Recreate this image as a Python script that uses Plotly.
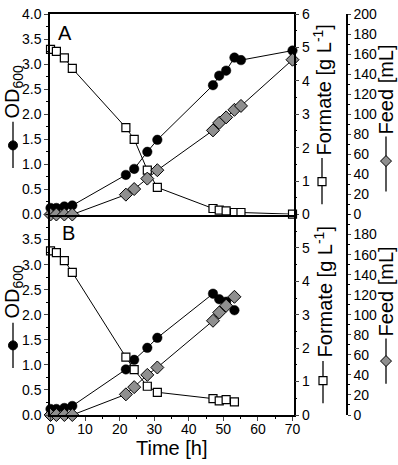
import plotly.graph_objects as go

# ---------------- data ----------------
time_A = [0, 1.7, 4, 6.3, 21.8, 24.2, 28, 30.9, 47, 48.8, 50.8, 53.2, 55.1, 70]
od_A = [0.13, 0.13, 0.16, 0.18, 0.79, 0.91, 1.25, 1.49, 2.58, 2.77, 2.87, 3.13, 3.08, 3.27]
formate_A = [4.94, 4.88, 4.69, 4.37, 2.60, 2.25, 1.33, 0.81, 0.18, 0.13, 0.11, 0.06, 0.06, 0.01]
feed_A = [0, 0, 0, 0, 19.8, 25.4, 35.8, 44.2, 83.9, 91.4, 96.9, 104.4, 108.3, 154.4]

time_B = [0, 1.7, 4, 6.3, 21.8, 24.2, 28, 30.9, 47, 48.8, 50.8, 53.2]
od_B = [0.12, 0.12, 0.14, 0.18, 0.91, 1.10, 1.34, 1.54, 2.42, 2.31, 2.26, 2.09]
formate_B = [4.91, 4.86, 4.62, 4.27, 1.73, 1.36, 0.86, 0.68, 0.49, 0.42, 0.46, 0.39]
feed_B = [0, 0, 0, 0, 20.6, 27.8, 40.0, 47.4, 94.0, 102.2, 109.0, 117.9]

x_ticks = [0, 10, 20, 30, 40, 50, 60, 70]
od_ticks_A = [0, 0.5, 1, 1.5, 2, 2.5, 3, 3.5, 4]
od_ticks_B = [0, 0.5, 1, 1.5, 2, 2.5, 3, 3.5]
formate_ticks_A = [0, 1, 2, 3, 4, 5, 6]
formate_ticks_B = [0, 1, 2, 3, 4, 5]
feed_ticks_A = [0, 20, 40, 60, 80, 100, 120, 140, 160, 180, 200]
feed_ticks_B = [0, 20, 40, 60, 80, 100, 120, 140, 160, 180]

FONT = "Liberation Sans, Arial, sans-serif"
GRAY = "#8f8f8f"

fig = go.Figure()

circle = dict(symbol="circle", size=9.5, color="black", line=dict(color="black", width=0.5))
square = dict(symbol="square", size=8, color="white", line=dict(color="black", width=1.2))
diamond = dict(symbol="diamond", size=10, color=GRAY, line=dict(color="black", width=1))
ln = dict(color="black", width=1)

# Panel A
fig.add_trace(go.Scatter(x=time_A, y=od_A, xaxis="x", yaxis="y", mode="lines+markers",
                         marker=circle, line=ln, cliponaxis=False, showlegend=False))
fig.add_trace(go.Scatter(x=time_A, y=formate_A, xaxis="x", yaxis="y2", mode="lines+markers",
                         marker=square, line=ln, cliponaxis=False, showlegend=False))
fig.add_trace(go.Scatter(x=time_A, y=feed_A, xaxis="x", yaxis="y3", mode="lines+markers",
                         marker=diamond, line=ln, cliponaxis=False, showlegend=False))
# Panel B
fig.add_trace(go.Scatter(x=time_B, y=od_B, xaxis="x2", yaxis="y4", mode="lines+markers",
                         marker=circle, line=ln, cliponaxis=False, showlegend=False))
fig.add_trace(go.Scatter(x=time_B, y=formate_B, xaxis="x2", yaxis="y5", mode="lines+markers",
                         marker=square, line=ln, cliponaxis=False, showlegend=False))
fig.add_trace(go.Scatter(x=time_B, y=feed_B, xaxis="x2", yaxis="y6", mode="lines+markers",
                         marker=diamond, line=ln, cliponaxis=False, showlegend=False))

XDOM = [0, 0.82]
XR = [-0.15, 70.3]
tickfont = dict(family=FONT, size=14, color="black")
axline = dict(showline=True, linecolor="black", linewidth=1.5, showgrid=False, zeroline=False,
              ticklabeloverflow="allow")


def fmt1(v):
    return f"{v:.1f}"


fig.update_layout(
    width=398, height=465,
    margin=dict(l=50, r=51, t=6, b=50, pad=0),
    plot_bgcolor="white", paper_bgcolor="white",
    font=dict(family=FONT, color="black"),
    xaxis=dict(domain=XDOM, anchor="y", range=XR, showticklabels=False, ticks="",
               mirror=True, **axline),
    yaxis=dict(domain=[0.5, 1], anchor="x", range=[0, 4], tickmode="array",
               tickvals=od_ticks_A, ticktext=[fmt1(v) for v in od_ticks_A],
               ticks="outside", ticklen=4, tickwidth=1.2, tickfont=tickfont,
               minor=dict(ticks="outside", ticklen=2, dtick=0.25, tick0=0, tickcolor="black"),
               **axline),
    yaxis2=dict(overlaying="y", anchor="x", side="right", range=[0, 6], tickmode="array",
                tickvals=formate_ticks_A, ticks="outside", ticklen=4, tickwidth=1.2,
                tickfont=tickfont,
                minor=dict(ticks="outside", ticklen=2, dtick=0.5, tick0=0, tickcolor="black"),
                **axline),
    yaxis3=dict(overlaying="y", anchor="free", position=1, side="right", range=[0, 200],
                tickmode="array", tickvals=feed_ticks_A, ticks="outside", ticklen=3,
                tickwidth=1.2, tickfont=tickfont,
                minor=dict(ticks="outside", ticklen=2, dtick=10, tick0=0, tickcolor="black"),
                **axline),
    xaxis2=dict(domain=XDOM, anchor="y4", range=XR, tickmode="array", tickvals=x_ticks,
                ticks="outside", ticklen=4, tickwidth=1.2, tickfont=tickfont, mirror=False,
                ticklabelstandoff=-4,
                minor=dict(ticks="outside", ticklen=2, dtick=5, tick0=0, tickcolor="black"),
                title=dict(text="Time [h]", font=dict(family=FONT, size=20, color="black"),
                           standoff=2),
                **axline),
    yaxis4=dict(domain=[0, 0.5], anchor="x2", range=[0, 4], tickmode="array",
                tickvals=od_ticks_B, ticktext=[fmt1(v) for v in od_ticks_B],
                ticks="outside", ticklen=4, tickwidth=1.2, tickfont=tickfont,
                minor=dict(ticks="outside", ticklen=2, dtick=0.25, tick0=0, tickcolor="black"),
                **axline),
    yaxis5=dict(overlaying="y4", anchor="x2", side="right", range=[0, 6], tickmode="array",
                tickvals=formate_ticks_B, ticks="outside", ticklen=4, tickwidth=1.2,
                tickfont=tickfont,
                minor=dict(ticks="outside", ticklen=2, dtick=0.5, tick0=0, tickcolor="black"),
                **axline),
    yaxis6=dict(overlaying="y4", anchor="free", position=1, side="right", range=[0, 200],
                tickmode="array", tickvals=feed_ticks_B, ticks="outside", ticklen=3,
                tickwidth=1.2, tickfont=tickfont,
                minor=dict(ticks="outside", ticklen=2, dtick=10, tick0=0, tickcolor="black"),
                **axline),
)


# ---- pixel -> paper helpers for decorations (axis-title symbols, panel letters) ----
def px(xp):
    return (xp - 50) / 297.0


def py(yp):
    return (415 - yp) / 409.0


title_font = dict(family=FONT, size=20, color="black")
ann = []
# Panel letters
ann.append(dict(x=px(65), y=py(25), xref="paper", yref="paper", text="A", showarrow=False,
                font=dict(family=FONT, size=20, color="black"), xanchor="center", yanchor="middle"))
ann.append(dict(x=px(68), y=py(229), xref="paper", yref="paper", text="B", showarrow=False,
                font=dict(family=FONT, size=20, color="black"), xanchor="center", yanchor="middle"))

shapes = []
labels = [
    # (x center, text center y, text, line y0, line y1, marker y, marker kind)
    (13, 85, "OD<sub>600</sub>", 116, 163, 140, "circle"),
    (13, 289, "OD<sub>600</sub>", 321, 367, 344, "circle"),
    (322, 84, "Formate [g L<sup>-1</sup>]", 153, 200, 177, "square"),
    (323, 290, "Formate [g L<sup>-1</sup>]", 360, 403, 380, "square"),
    (386, 83, "Feed [mL]", 131, 187, 156, "diamond"),
    (386, 289, "Feed [mL]", 337, 383, 360, "diamond"),
]
for xc, ty, txt, l0, l1, my, kind in labels:
    ann.append(dict(x=px(xc), y=py(ty), xref="paper", yref="paper", text=txt, textangle=-90,
                    showarrow=False, font=title_font, xanchor="center", yanchor="middle"))
    shapes.append(dict(type="line", xref="paper", yref="paper", x0=px(xc), x1=px(xc),
                       y0=py(l0), y1=py(l1), line=dict(color="black", width=1.3)))
    common = dict(xref="paper", yref="paper", xsizemode="pixel", ysizemode="pixel",
                  xanchor=px(xc), yanchor=py(my))
    if kind == "circle":
        shapes.append(dict(type="circle", x0=-4.5, x1=4.5, y0=-4.5, y1=4.5,
                           fillcolor="black", line=dict(color="black", width=1), **common))
    elif kind == "square":
        shapes.append(dict(type="rect", x0=-4, x1=4, y0=-4, y1=4,
                           fillcolor="white", line=dict(color="black", width=1.2), **common))
    else:
        shapes.append(dict(type="path", path="M 0 -5.5 L 5.5 0 L 0 5.5 L -5.5 0 Z",
                           fillcolor=GRAY, line=dict(color="black", width=1), **common))

fig.update_layout(annotations=ann, shapes=shapes)

fig.write_html("out.html")
